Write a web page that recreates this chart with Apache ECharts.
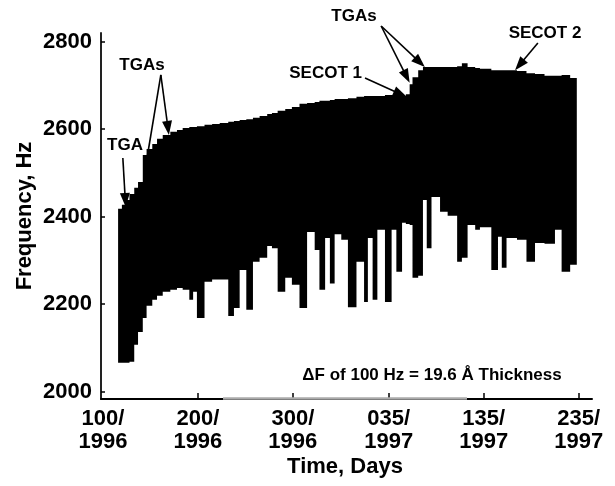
<!DOCTYPE html>
<html><head><meta charset="utf-8">
<script src="https://cdn.jsdelivr.net/npm/echarts@6/dist/echarts.min.js"></script>
<style>html,body{margin:0;padding:0;background:#fff}#c{width:615px;height:486px}</style>
</head><body><div id="c"></div>
<script>
// Segment boundaries (day count from start of 1996)
const dayEdges = [116,120,124,128,133,137,142,146,152,157,163,171,178,184,191,195,199,203,207,215,223,232,238,244,251,258,265,273,278,284,292,299,307,315,323,328,334,339,344,351,358,367,375,379,384,389,397,404,409,415,419,423,426,432,437,441,446,455,463,473,478,484,492,497,509,516,520,525,536,546,555,565,576,583,592,599];
// Max frequency in each segment (Hz)
const upperHz = [2418,2427,2438,2452,2466,2479,2541,2555,2566,2578,2587,2594,2598,2603,2605,2605,2607,2607,2610,2612,2614,2617,2619,2621,2623,2626,2630,2635,2637,2642,2646,2651,2658,2660,2662,2665,2665,2667,2669,2669,2671,2674,2676,2676,2676,2676,2678,2678,2676,2676,2680,2703,2719,2735,2742,2742,2742,2742,2742,2744,2751,2742,2740,2738,2735,2735,2735,2735,2733,2728,2726,2722,2722,2724,2717];
// Min frequency in each segment (Hz)
const lowerHz = [2066,2066,2066,2068,2107,2136,2168,2196,2210,2219,2228,2233,2237,2233,2210,2228,2168,2168,2251,2256,2256,2173,2191,2278,2187,2297,2306,2333,2328,2228,2260,2244,2191,2365,2324,2233,2351,2247,2360,2347,2193,2297,2205,2351,2210,2370,2205,2370,2274,2386,2383,2381,2260,2265,2438,2328,2445,2411,2402,2297,2306,2381,2370,2376,2278,2354,2283,2351,2347,2297,2340,2338,2370,2274,2290];

const xTickDays = [100,200,300,401,501,601];
const xTickLabels = ['100/\n1996','200/\n1996','300/\n1996','035/\n1997','135/\n1997','235/\n1997'];
const yTicks = [2000,2200,2400,2600,2800];

// Annotation arrows: [fromDay, fromHz, toDay, toHz, hasHead]
const arrows = [
  [121, 2534, 124, 2422, true],
  [161, 2724, 147, 2541, false],
  [161, 2724, 169.5, 2587, true],
  [393, 2836, 423, 2706, true],
  [393, 2836, 439, 2742, true],
  [376, 2717, 420, 2674, true],
  [558, 2797, 534, 2735, true]
];

const bandData = [];
for (let i = 0; i < upperHz.length; i++) {
  bandData.push([dayEdges[i], dayEdges[i+1], lowerHz[i], upperHz[i]]);
}

const FONT = '"Liberation Sans", Arial, Helvetica, sans-serif';
const chart = echarts.init(document.getElementById('c'), null, {renderer: 'canvas'});

chart.setOption({
  animation: false,
  backgroundColor: '#fff',
  grid: {left: 101, right: 23, top: 33, bottom: 87, containLabel: false},
  xAxis: {
    type: 'value', min: 98, max: 615,
    splitLine: {show: false},
    axisLine: {show: true, lineStyle: {color: '#000', width: 2}},
    axisTick: {show: true, inside: true, length: 6, customValues: [200,300,401,501,601], lineStyle: {color: '#000', width: 1.5}},
    axisLabel: {
      show: true, customValues: xTickDays,
      formatter: function (v) { const i = xTickDays.indexOf(v); return i >= 0 ? xTickLabels[i] : ''; },
      color: '#000', fontFamily: FONT, fontWeight: 'bold', fontSize: 22, lineHeight: 23, margin: 8
    }
  },
  yAxis: {
    type: 'value', min: 1983, max: 2820,
    splitLine: {show: false},
    axisLine: {show: true, lineStyle: {color: '#222', width: 2}},
    axisTick: {show: true, inside: true, length: 4, customValues: yTicks, lineStyle: {color: '#000', width: 1.5}},
    axisLabel: {
      show: true, customValues: yTicks,
      formatter: function (v) { return String(v); },
      color: '#000', fontFamily: FONT, fontWeight: 'bold', fontSize: 22, margin: 9
    }
  },
  series: [
    {
      type: 'custom',
      data: bandData,
      renderItem: function (params, api) {
        if (params.dataIndex !== 0) return null;
        const pts = [];
        for (let i = 0; i < bandData.length; i++) {
          pts.push(api.coord([bandData[i][0], bandData[i][3]]));
          pts.push(api.coord([bandData[i][1], bandData[i][3]]));
        }
        for (let i = bandData.length - 1; i >= 0; i--) {
          pts.push(api.coord([bandData[i][1], bandData[i][2]]));
          pts.push(api.coord([bandData[i][0], bandData[i][2]]));
        }
        return {type: 'polygon', shape: {points: pts}, style: {fill: '#000'}};
      },
      encode: {x: [0, 1], y: [2, 3]}
    }
  ]
});

const graphics = [
  {type: 'line', shape: {x1: 223, y1: 398.5, x2: 467, y2: 398.5}, style: {stroke: '#aaa', lineWidth: 2.5}, z: 10},
  {type: 'text', x: 125, y: 145, style: {text: 'TGA', font: 'bold 17px ' + FONT, fill: '#000', textAlign: 'center', textVerticalAlign: 'middle'}},
  {type: 'text', x: 142, y: 65, style: {text: 'TGAs', font: 'bold 17px ' + FONT, fill: '#000', textAlign: 'center', textVerticalAlign: 'middle'}},
  {type: 'text', x: 354, y: 16, style: {text: 'TGAs', font: 'bold 17px ' + FONT, fill: '#000', textAlign: 'center', textVerticalAlign: 'middle'}},
  {type: 'text', x: 362, y: 73, style: {text: 'SECOT 1', font: 'bold 17px ' + FONT, fill: '#000', textAlign: 'right', textVerticalAlign: 'middle'}},
  {type: 'text', x: 545, y: 33, style: {text: 'SECOT 2', font: 'bold 17px ' + FONT, fill: '#000', textAlign: 'center', textVerticalAlign: 'middle'}},
  {type: 'text', x: 432, y: 375, style: {text: 'ΔF of 100 Hz = 19.6 Å Thickness', font: 'bold 17px ' + FONT, fill: '#000', textAlign: 'center', textVerticalAlign: 'middle'}},
  {type: 'text', x: 345, y: 467, style: {text: 'Time, Days', font: 'bold 22px ' + FONT, fill: '#000', textAlign: 'center', textVerticalAlign: 'middle'}},
  {type: 'text', x: 25, y: 216, rotation: Math.PI / 2, style: {text: 'Frequency, Hz', font: 'bold 22px ' + FONT, fill: '#000', textAlign: 'center', textVerticalAlign: 'middle'}}
];

arrows.forEach(function (a) {
  const p0 = chart.convertToPixel({gridIndex: 0}, [a[0], a[1]]);
  const p1 = chart.convertToPixel({gridIndex: 0}, [a[2], a[3]]);
  const dx = p1[0] - p0[0], dy = p1[1] - p0[1];
  const len = Math.sqrt(dx * dx + dy * dy);
  const ux = dx / len, uy = dy / len;
  const headLen = 14, halfW = 5;
  const bx = p1[0] - ux * headLen, by = p1[1] - uy * headLen;
  const endX = a[4] ? bx + ux * 2 : p1[0], endY = a[4] ? by + uy * 2 : p1[1];
  graphics.push({type: 'line', z: 20, shape: {x1: p0[0], y1: p0[1], x2: endX, y2: endY}, style: {stroke: '#000', lineWidth: 1.6}});
  if (a[4]) {
    graphics.push({type: 'polygon', z: 20, shape: {points: [
      [p1[0], p1[1]],
      [bx - uy * halfW, by + ux * halfW],
      [bx + uy * halfW, by - ux * halfW]
    ]}, style: {fill: '#000'}});
  }
});

chart.setOption({graphic: graphics});
</script>
</body></html>
